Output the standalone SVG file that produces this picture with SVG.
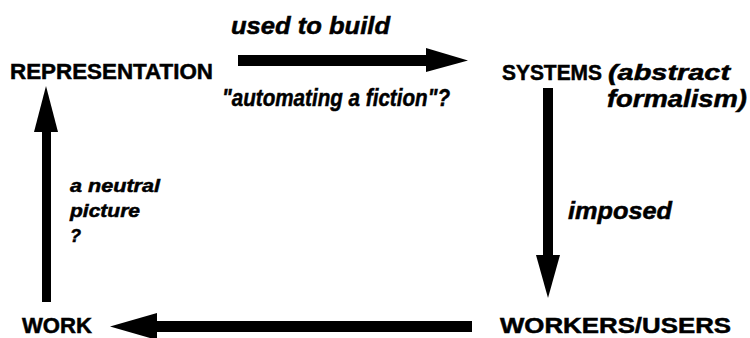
<svg xmlns="http://www.w3.org/2000/svg" width="750" height="338" viewBox="0 0 750 338">
<style>
text{font-family:"Liberation Sans",Arial,sans-serif;font-weight:bold;fill:#000;stroke:#000;stroke-width:0.5}
.it{font-style:italic}
.n{font-size:22px}
.l{font-size:23px}
.s{font-size:18px}
</style>
<rect width="750" height="338" fill="#fff"/>
<g id="connectors" fill="#000">
<g id="e-rep-sys"><rect x="238" y="55" width="190" height="11"/><polygon points="426,48 468,60.5 426,72"/></g>
<g id="e-sys-wu"><rect x="543" y="88" width="10" height="170"/><polygon points="536,255 560,255 548,298"/></g>
<g id="e-wu-work"><rect x="155" y="321" width="317" height="11"/><polygon points="157,313 110,326.5 157,340"/></g>
<g id="e-work-rep"><rect x="42" y="130" width="9" height="172"/><polygon points="34,132 58,132 46,86"/></g>
</g>
<g id="labels">
<text class="l it" x="231" y="34" textLength="159" lengthAdjust="spacingAndGlyphs">used to build</text>
<text class="it" style="font-size:24px" x="222" y="106" textLength="228" lengthAdjust="spacingAndGlyphs">"automating a fiction"?</text>
<text class="l it" x="568" y="219" textLength="104" lengthAdjust="spacingAndGlyphs">imposed</text>
<text class="s it" x="70" y="192" textLength="90" lengthAdjust="spacingAndGlyphs">a neutral</text>
<text class="s it" x="70" y="217" textLength="70" lengthAdjust="spacingAndGlyphs">picture</text>
<text class="s it" x="70" y="242">?</text>
</g>
<g id="representation"><text class="n" x="10" y="79" textLength="203" lengthAdjust="spacingAndGlyphs">REPRESENTATION</text></g>
<g id="systems"><text class="n" x="502" y="80"><tspan textLength="100" lengthAdjust="spacingAndGlyphs">SYSTEMS</tspan><tspan class="it" dx="6" textLength="122" lengthAdjust="spacingAndGlyphs">(abstract</tspan></text><text class="l it" x="607" y="107" textLength="140" lengthAdjust="spacingAndGlyphs">formalism)</text></g>
<g id="workers"><text class="n" x="500" y="333" textLength="231" lengthAdjust="spacingAndGlyphs">WORKERS/USERS</text></g>
<g id="work"><text class="n" x="22" y="333" textLength="70" lengthAdjust="spacingAndGlyphs">WORK</text></g>
</svg>
